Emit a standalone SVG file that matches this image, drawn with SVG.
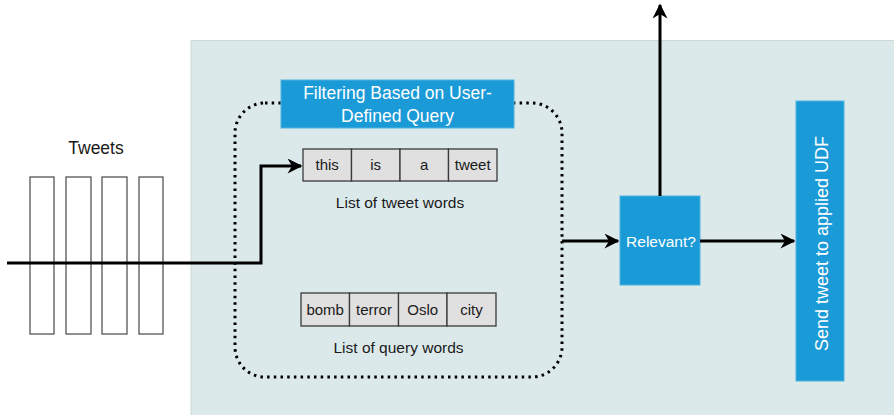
<svg xmlns="http://www.w3.org/2000/svg" width="894" height="415" viewBox="0 0 894 415">
  <style>
    .lbl { font-family: "Liberation Sans", Arial, sans-serif; fill: #1a1a1a; }
    .wht { font-family: "Liberation Sans", Arial, sans-serif; fill: #ffffff; }
    .cell { fill: #e0e0e0; stroke: #3a3a3a; stroke-width: 1.3; }
    .tweet { fill: #ffffff; stroke: #555555; stroke-width: 1.3; }
    .blue { fill: #1a9ad6; stroke: #4fb2e0; stroke-width: 1; }
    .conn { fill: none; stroke: #000000; stroke-width: 3; }
  </style>
  <defs>
    <marker id="arrow" viewBox="0 0 10 10" refX="9" refY="5" markerWidth="5.4" markerHeight="5" orient="auto" markerUnits="strokeWidth">
      <path d="M0,0 L10,5 L0,10 L3,5 Z" fill="#000000"/>
    </marker>
  </defs>

  <rect width="894" height="415" fill="#ffffff"/>

  <!-- processing area -->
  <g id="panel">
    <rect x="191" y="40.5" width="710" height="380" fill="#dce9ea" stroke="#cfd8d9" stroke-width="1"/>
  </g>

  <!-- filtering region outline -->
  <g id="filter-region">
    <rect x="235" y="103" width="327" height="274" rx="30" ry="30" fill="none" stroke="#000000" stroke-width="3" stroke-dasharray="2.5 4.2"/>
  </g>

  <g id="filter-title">
    <rect class="blue" x="281" y="80" width="233" height="48"/>
    <text class="wht" x="397.5" y="99" font-size="17.5" text-anchor="middle">Filtering Based on User-</text>
    <text class="wht" x="397.5" y="122" font-size="17.5" text-anchor="middle">Defined Query</text>
  </g>

  <!-- incoming tweets -->
  <g id="tweets">
    <text class="lbl" x="96" y="153.5" font-size="17.5" text-anchor="middle">Tweets</text>
    <rect class="tweet" x="30" y="177" width="24" height="157"/>
    <rect class="tweet" x="66" y="177" width="25" height="157"/>
    <rect class="tweet" x="102" y="177" width="25" height="157"/>
    <rect class="tweet" x="139" y="177" width="24" height="157"/>
  </g>

  <g id="tweet-words">
    <rect class="cell" x="303" y="149" width="48.5" height="32"/>
    <rect class="cell" x="351.5" y="149" width="48.5" height="32"/>
    <rect class="cell" x="400" y="149" width="48.5" height="32"/>
    <rect class="cell" x="448.5" y="149" width="48.5" height="32"/>
    <text class="lbl" font-size="15" text-anchor="middle" y="170">
      <tspan x="327.2">this</tspan><tspan x="375.7">is</tspan><tspan x="424.2">a</tspan><tspan x="472.7">tweet</tspan>
    </text>
    <text class="lbl" x="400" y="208" font-size="15.5" text-anchor="middle">List of tweet words</text>
  </g>

  <g id="query-words">
    <rect class="cell" x="301" y="293" width="48.5" height="33"/>
    <rect class="cell" x="349.5" y="293" width="49" height="33"/>
    <rect class="cell" x="398.5" y="293" width="48.5" height="33"/>
    <rect class="cell" x="447" y="293" width="49" height="33"/>
    <text class="lbl" font-size="15" text-anchor="middle" y="315">
      <tspan x="325.2">bomb</tspan><tspan x="374">terror</tspan><tspan x="422.7">Oslo</tspan><tspan x="471.5">city</tspan>
    </text>
    <text class="lbl" x="398.5" y="352.5" font-size="15.5" text-anchor="middle">List of query words</text>
  </g>

  <g id="relevant">
    <rect class="blue" x="620" y="196" width="80" height="89"/>
    <text class="wht" x="661" y="246.5" font-size="15.5" text-anchor="middle">Relevant?</text>
  </g>

  <g id="send-udf">
    <rect class="blue" x="796" y="101" width="48" height="280"/>
    <text class="wht" font-size="18" text-anchor="middle" transform="translate(827.5 243.5) rotate(-90)">Send tweet to applied UDF</text>
  </g>

  <!-- connectors -->
  <g id="connectors">
    <path class="conn" d="M7,263 H261 V166 H301" marker-end="url(#arrow)"/>
    <path class="conn" d="M562,241 H618" marker-end="url(#arrow)"/>
    <path class="conn" d="M700,241 H794" marker-end="url(#arrow)"/>
    <path class="conn" d="M660,196 V5" marker-end="url(#arrow)"/>
  </g>
</svg>
